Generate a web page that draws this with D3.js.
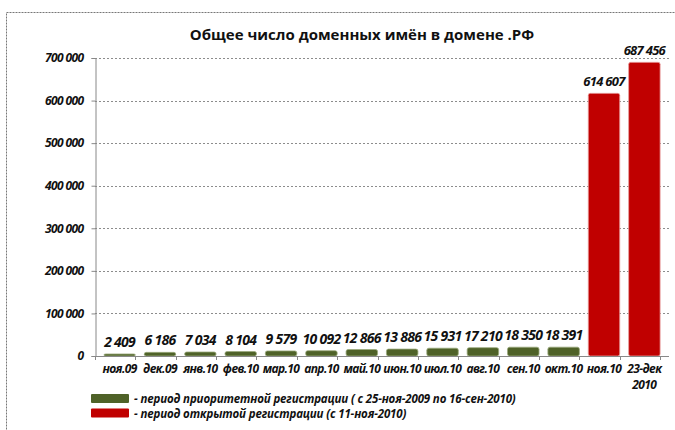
<!DOCTYPE html>
<html>
<head>
<meta charset="utf-8">
<script src="https://cdn.jsdelivr.net/npm/d3@7"></script>
<style>
  body { margin: 0; background: #fff; }
  svg { display: block; font-family: "Open Sans", "Noto Sans", sans-serif; }
</style>
</head>
<body>
<svg id="chart" width="675" height="430"></svg>
<script>
// ==========================
// DATA
// ==========================
const categories = ["ноя.09", "дек.09", "янв.10", "фев.10", "мар.10", "апр.10", "май.10",
                    "июн.10", "июл.10", "авг.10", "сен.10", "окт.10", "ноя.10", "23-дек\n2010"];
const domainCounts = [2409, 6186, 7034, 8104, 9579, 10092, 12866,
                      13886, 15931, 17210, 18350, 18391, 614607, 687456];
// 0 = priority registration, 1 = open registration
const periodIndex = [0, 0, 0, 0, 0, 0, 0, 0, 0, 0, 0, 0, 1, 1];
const yTicks = [0, 100000, 200000, 300000, 400000, 500000, 600000, 700000];
const legendLabels = ["- период приоритетной регистрации ( с 25-ноя-2009 по 16-сен-2010)",
                      "- период открытой регистрации (с 11-ноя-2010)"];
const periodColors = ["#4f6228", "#c00000"];

// ==========================
// SETUP
// ==========================
const svg = d3.select("#chart");
const margin = { left: 95, right: 6, top: 58, bottom: 74 };
const width = 675, height = 430;

const x = d3.scaleBand()
    .domain(categories)
    .range([margin.left, width - margin.right])
    .padding(0.22);

const y = d3.scaleLinear()
    .domain([0, 700000])
    .range([height - margin.bottom, margin.top]);

const fmt = v => d3.format(",")(v).replace(/,/g, " ");

// Dashed outer frame (cut off on the right and bottom)
svg.append("rect")
    .attr("x", 6.5).attr("y", 12.5)
    .attr("width", 720).attr("height", 450)
    .attr("fill", "none")
    .attr("stroke", "#777")
    .attr("stroke-dasharray", "2,1");

// Title
svg.append("text")
    .attr("x", 362).attr("y", 40)
    .attr("text-anchor", "middle")
    .attr("font-size", 15)
    .attr("font-weight", "bold")
    .attr("fill", "#111")
    .text("Общее число доменных имён в домене .РФ");

// Gridlines
svg.append("g")
    .selectAll("line")
    .data(yTicks.filter(d => d > 0))
    .enter()
    .append("line")
    .attr("x1", margin.left).attr("x2", width - margin.right)
    .attr("y1", d => Math.round(y(d)) + 0.5).attr("y2", d => Math.round(y(d)) + 0.5)
    .attr("stroke", "#8c8c8c")
    .attr("stroke-dasharray", "2,2");

// Y axis
const yAxis = svg.append("g")
    .attr("transform", `translate(${margin.left + 0.5},0)`)
    .call(d3.axisLeft(y).tickValues(yTicks).tickSize(4).tickPadding(8).tickFormat(fmt));
yAxis.select(".domain").attr("stroke", "#888");
yAxis.selectAll(".tick line").attr("stroke", "#888");
yAxis.selectAll(".tick text")
    .attr("font-size", 12)
    .attr("font-weight", "bold")
    .attr("font-style", "italic")
    .attr("fill", "#111")
    .attr("font-family", "'Open Sans', sans-serif")
    .attr("letter-spacing", "-0.6");

// Bars
svg.append("g")
    .selectAll("rect")
    .data(categories)
    .enter()
    .append("rect")
    .attr("x", d => x(d))
    .attr("y", (d, i) => y(domainCounts[i]) - 1)
    .attr("width", x.bandwidth())
    .attr("height", (d, i) => y(0) - y(domainCounts[i]) + 1)
    .attr("rx", 2)
    .attr("fill", (d, i) => periodColors[periodIndex[i]])
    .attr("stroke", (d, i) => periodIndex[i] ? "#e9a0a0" : "#9aa97c")
    .attr("stroke-width", 0.8);

// Value labels
svg.append("g")
    .selectAll("text")
    .data(categories)
    .enter()
    .append("text")
    .attr("x", d => x(d) + x.bandwidth() / 2)
    .attr("y", (d, i) => y(domainCounts[i]) - 8)
    .attr("text-anchor", "middle")
    .attr("font-size", (d, i) => periodIndex[i] ? 13 : 14)
    .attr("font-weight", "bold")
    .attr("font-style", "italic")
    .attr("fill", "#111")
    .attr("letter-spacing", "-0.7")
    .text((d, i) => fmt(domainCounts[i]));

// X axis
const xAxisY = y(0);
svg.append("line")
    .attr("x1", margin.left).attr("x2", width - margin.right)
    .attr("y1", xAxisY + 0.5).attr("y2", xAxisY + 0.5)
    .attr("stroke", "#888");

svg.append("g")
    .selectAll("line")
    .data(d3.range(categories.length + 1))
    .enter()
    .append("line")
    .attr("x1", i => Math.round(margin.left + i * x.step()) + 0.5)
    .attr("x2", i => Math.round(margin.left + i * x.step()) + 0.5)
    .attr("y1", xAxisY).attr("y2", xAxisY + 4)
    .attr("stroke", "#888");

const xLabels = svg.append("g")
    .selectAll("text")
    .data(categories)
    .enter()
    .append("text")
    .attr("x", d => x(d) + x.bandwidth() / 2)
    .attr("y", xAxisY + 17)
    .attr("text-anchor", "middle")
    .attr("font-size", 12)
    .attr("font-weight", "bold")
    .attr("font-style", "italic")
    .attr("fill", "#111")
    .attr("letter-spacing", "-0.6");

xLabels.each(function (d) {
    const lines = d.split("\n");
    d3.select(this).selectAll("tspan")
        .data(lines)
        .enter()
        .append("tspan")
        .attr("x", x(d) + x.bandwidth() / 2)
        .attr("dy", (l, j) => j === 0 ? 0 : 16)
        .text(l => l);
});

// Legend
const legend = svg.append("g")
    .selectAll("g")
    .data(legendLabels)
    .enter()
    .append("g")
    .attr("transform", (d, i) => `translate(91,${394 + i * 14.5})`);

legend.append("rect")
    .attr("width", 38).attr("height", 9)
    .attr("rx", 1)
    .attr("fill", (d, i) => periodColors[i]);

legend.append("text")
    .attr("x", 43).attr("y", 9)
    .attr("font-size", 11.5)
    .attr("font-weight", "bold")
    .attr("font-style", "italic")
    .attr("fill", "#111")
    .attr("letter-spacing", "-0.15")
    .text(d => d);
</script>
</body>
</html>
